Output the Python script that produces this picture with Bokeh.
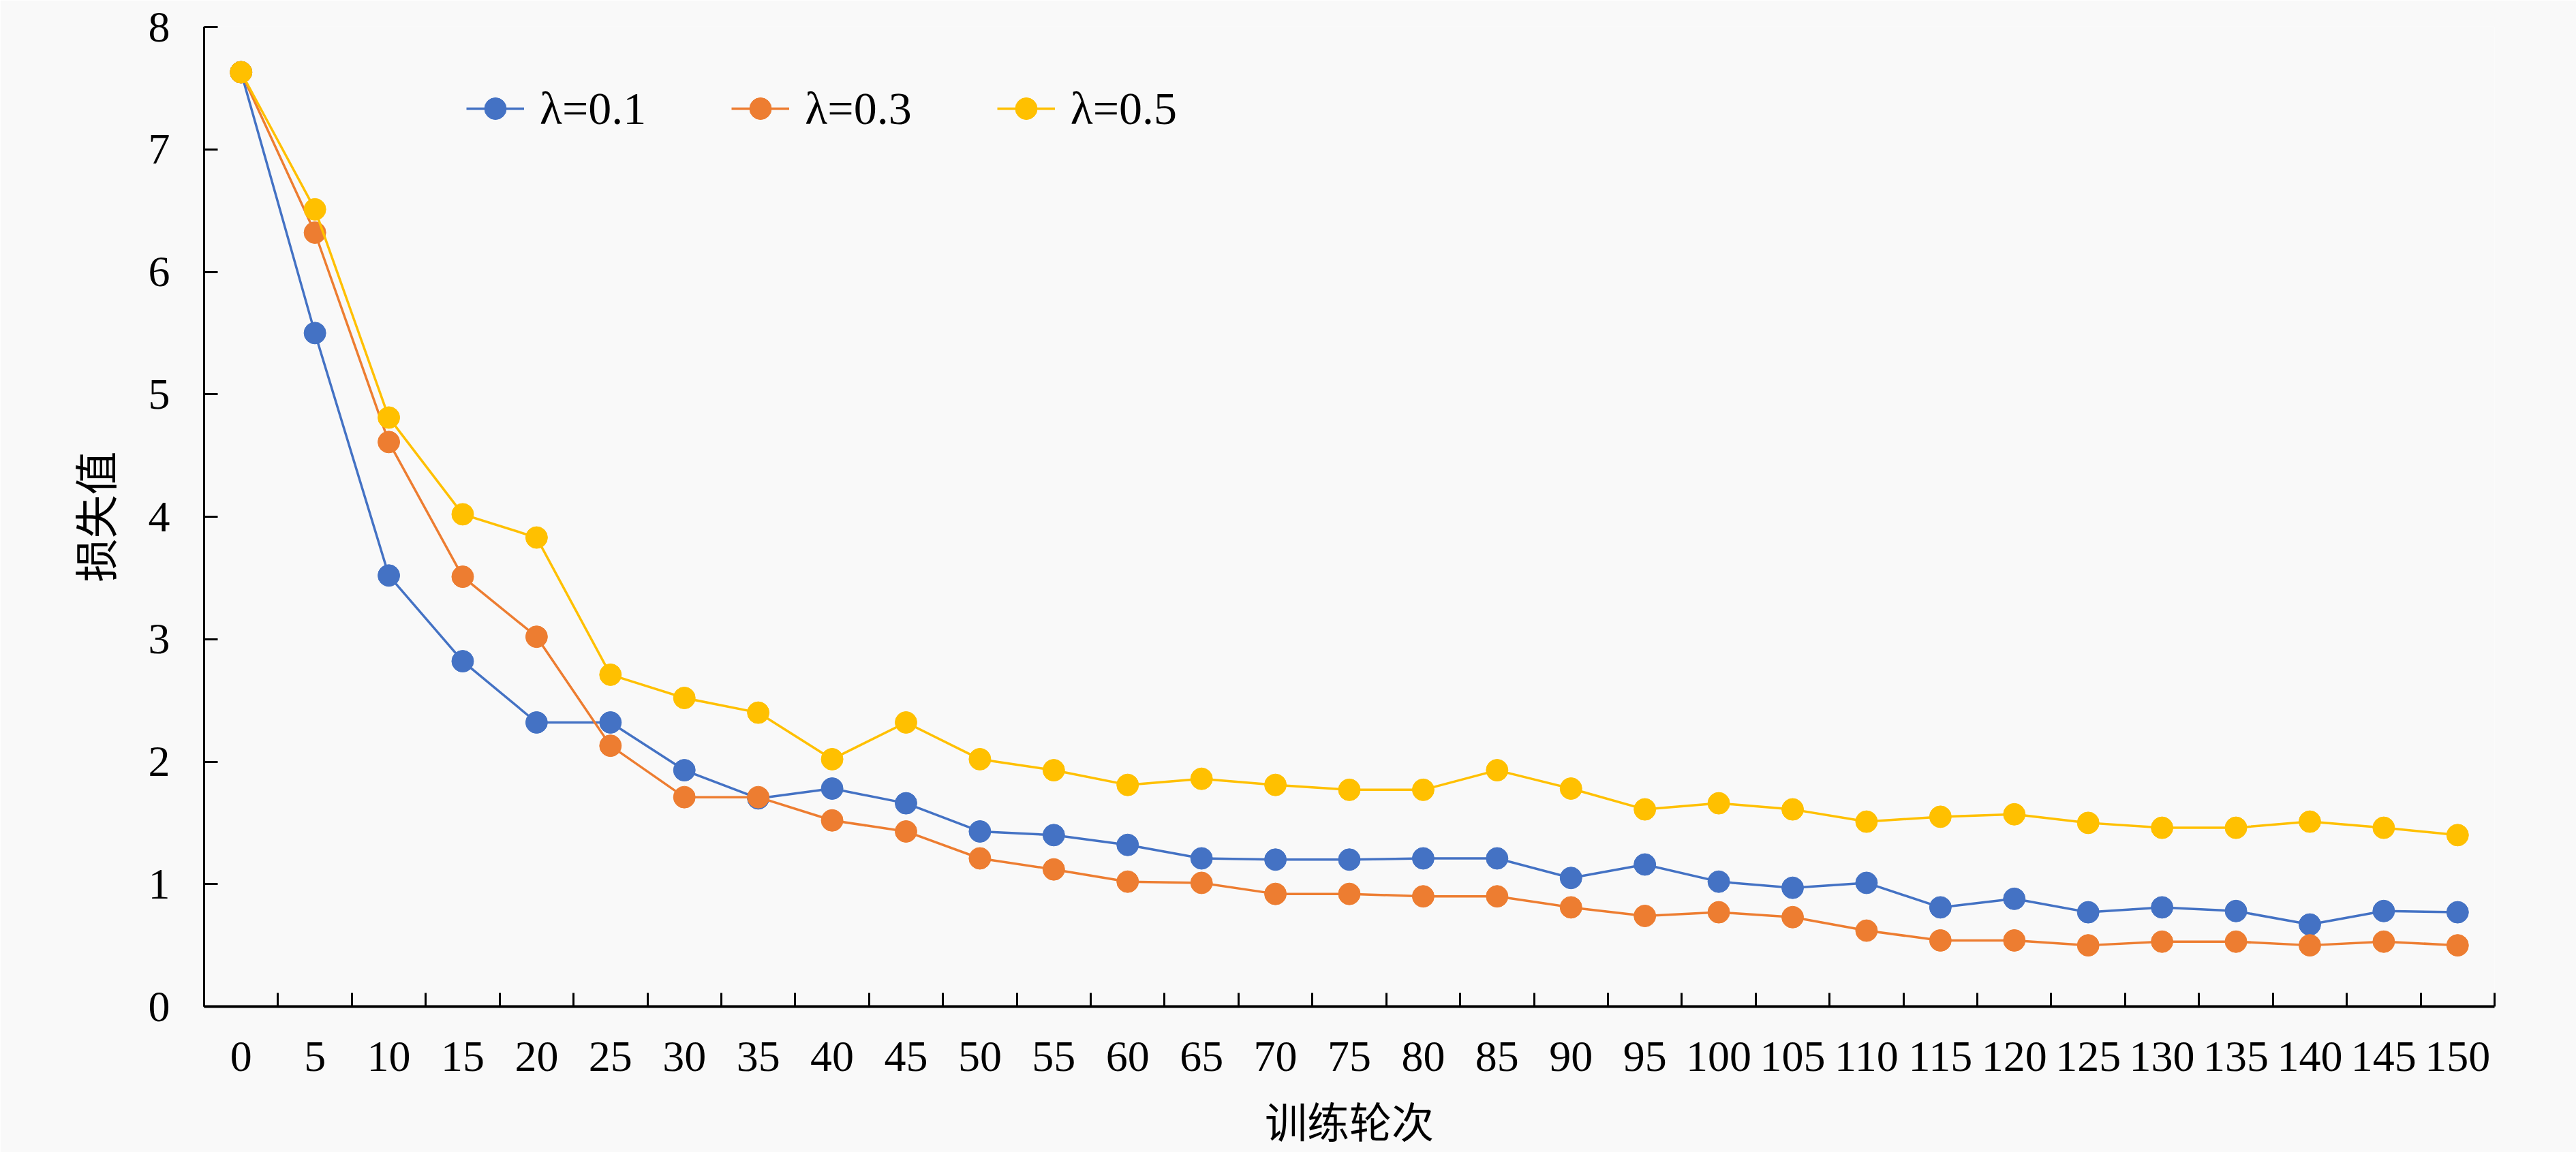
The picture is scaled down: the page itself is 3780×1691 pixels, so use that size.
from bokeh.plotting import figure
from bokeh.models import FixedTicker, Legend, LegendItem, Range1d
from bokeh.embed import file_html
from bokeh.resources import INLINE

epochs = list(range(0, 151, 5))
loss_01 = [7.63, 5.50, 3.52, 2.82, 2.32, 2.32, 1.93, 1.70, 1.78, 1.66, 1.43,
           1.40, 1.32, 1.21, 1.20, 1.20, 1.21, 1.21, 1.05, 1.16, 1.02, 0.97,
           1.01, 0.81, 0.88, 0.77, 0.81, 0.78, 0.67, 0.78, 0.77]
loss_03 = [7.63, 6.32, 4.61, 3.51, 3.02, 2.13, 1.71, 1.71, 1.52, 1.43, 1.21,
           1.12, 1.02, 1.01, 0.92, 0.92, 0.90, 0.90, 0.81, 0.74, 0.77, 0.73,
           0.62, 0.54, 0.54, 0.50, 0.53, 0.53, 0.50, 0.53, 0.50]
loss_05 = [7.63, 6.51, 4.81, 4.02, 3.83, 2.71, 2.52, 2.40, 2.02, 2.32, 2.02,
           1.93, 1.81, 1.86, 1.81, 1.77, 1.77, 1.93, 1.78, 1.61, 1.66, 1.61,
           1.51, 1.55, 1.57, 1.50, 1.46, 1.46, 1.51, 1.46, 1.40]
series_labels = ["λ=0.1", "λ=0.3", "λ=0.5"]
series_colors = ["#4472C4", "#ED7D31", "#FFC000"]
y_ticks = [0, 1, 2, 3, 4, 5, 6, 7, 8]
x_title = "训练轮次"
y_title = "损失值"

BG = "#f9f9f9"
W, H = 3780, 1691
p = figure(width=W, height=H, output_backend="svg", toolbar_location=None,
           x_range=Range1d(-2.5, 152.5), y_range=Range1d(0, 8),
           min_border_left=299, min_border_right=W - 3660, min_border_top=39,
           min_border_bottom=H - 1477)
p.background_fill_color = BG
p.border_fill_color = BG
p.outline_line_color = None
p.grid.visible = False

# x axis: labels at category centres, ticks at category boundaries
bounds = [e - 2.5 for e in epochs] + [epochs[-1] + 2.5]
xa = p.xaxis[0]
xa.ticker = FixedTicker(ticks=epochs, minor_ticks=bounds)
xa.major_tick_line_color = None
xa.minor_tick_in = 20
xa.minor_tick_out = 0
xa.minor_tick_line_width = 3
xa.minor_tick_line_color = "black"
xa.axis_line_width = 4
xa.axis_line_color = "black"
xa.major_label_text_font = "Liberation Serif"
xa.major_label_text_font_size = "64px"
xa.major_label_text_color = "black"
xa.major_label_standoff = 46
xa.axis_label = x_title
xa.axis_label_text_font = "Noto Sans CJK SC"
xa.axis_label_text_font_style = "normal"
xa.axis_label_text_font_size = "62px"
xa.axis_label_text_color = "black"
xa.axis_label_standoff = 24

ya = p.yaxis[0]
ya.ticker = FixedTicker(ticks=y_ticks, minor_ticks=[])
ya.major_tick_in = 20
ya.major_tick_out = 0
ya.major_tick_line_width = 3
ya.major_tick_line_color = "black"
ya.axis_line_width = 3
ya.axis_line_color = "black"
ya.major_label_text_font = "Liberation Serif"
ya.major_label_text_font_size = "64px"
ya.major_label_text_color = "black"
ya.major_label_standoff = 50
ya.axis_label = y_title
ya.axis_label_text_font = "Noto Sans CJK SC"
ya.axis_label_text_font_style = "normal"
ya.axis_label_text_font_size = "64px"
ya.axis_label_text_color = "black"
ya.axis_label_standoff = 32

items = []
for vals, lab, col in zip([loss_01, loss_03, loss_05], series_labels, series_colors):
    l = p.line(epochs, vals, line_color=col, line_width=3.5)
    s = p.scatter(epochs, vals, size=32, fill_color=col, line_color=col)
    items.append(LegendItem(label=lab, renderers=[l, s]))

legend = Legend(items=items, orientation="horizontal", location=(385, 1278),
                glyph_width=85, glyph_height=80, label_standoff=23, spacing=125,
                padding=0, margin=0, border_line_alpha=0, background_fill_alpha=0,
                label_text_font="Liberation Serif", label_text_font_size="68px",
                label_text_color="black")
p.add_layout(legend)

open("out.html", "w").write(file_html(p, INLINE))
